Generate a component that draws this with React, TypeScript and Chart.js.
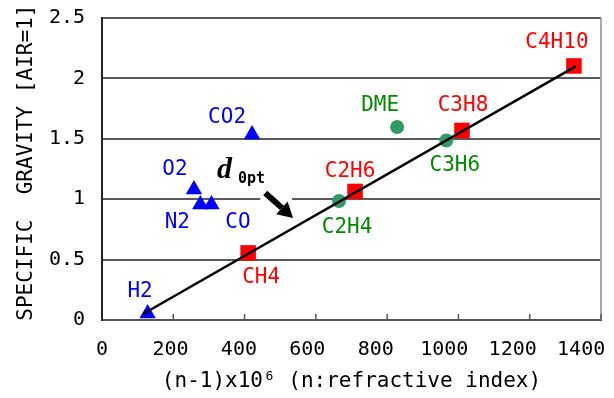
import { useEffect, useRef } from 'react';
import { Chart, registerables } from 'chart.js';

Chart.register(...registerables);

// ---- data ----
const xTickValues = [0, 200, 400, 600, 800, 1000, 1200, 1400];
const yTickValues = [0, 0.5, 1, 1.5, 2, 2.5];

const blueNames = ['H2', 'O2', 'N2', 'CO', 'CO2'];
const blueX = [128, 258, 276, 307, 421];
const blueY = [0.054, 1.08, 0.956, 0.956, 1.536];

const redNames = ['CH4', 'C2H6', 'C3H8', 'C4H10'];
const redX = [410, 710, 1010, 1324];
const redY = [0.555, 1.064, 1.569, 2.103];

const greenNames = ['C2H4', 'DME', 'C3H6'];
const greenX = [665, 828, 966];
const greenY = [0.985, 1.598, 1.486];

const fitX = [115, 1329];
const fitY = [0.05, 2.1];

// ---- label placement (pixel offsets from markers) ----
const blueDX = [-7.5, -19, -23, 26.5, -25];
const blueDY = [-23.5, -22.5, 15.5, 15.5, -18.5];
const redDX = [13, -5, 1, -17];
const redDY = [23, -21.5, -26.5, -25];
const greenDX = [8, -17, 8.5];
const greenDY = [24, -23, 23.5];

// annotation anchors (data coords)
const arrowTail = { x: 458, y: 1.052 };
const arrowTip = { x: 536, y: 0.845 };
const dAnchor = { x: 322.6, y: 1.175 };

const MONO = "'DejaVu Sans Mono', 'Liberation Mono', monospace";

const BLUE = '#0000ff';
const RED = '#ff0000';
const GREEN_MARK = '#339966';
const GREEN_TEXT = '#008a00';

function pts(xs: number[], ys: number[]) {
  return xs.map((x, i) => ({ x, y: ys[i] }));
}

const annotationPlugin = {
  id: 'annotations',
  afterDatasetsDraw(chart: any) {
    const ctx = chart.ctx;
    const xs = chart.scales.x;
    const ys = chart.scales.y;
    const area = chart.chartArea;

    ctx.save();
    // right frame line
    ctx.strokeStyle = '#a8a8a8';
    ctx.lineWidth = 2;
    ctx.beginPath();
    ctx.moveTo(area.right, area.top);
    ctx.lineTo(area.right, area.bottom);
    ctx.stroke();

    // inward tick marks on x axis
    ctx.strokeStyle = '#555';
    ctx.lineWidth = 1.5;
    xs.ticks.forEach((t: any) => {
      const px = xs.getPixelForValue(t.value);
      if (px <= area.left + 1) return;
      ctx.beginPath();
      ctx.moveTo(px, area.bottom);
      ctx.lineTo(px, area.bottom - 6);
      ctx.stroke();
    });

    // point labels
    const groups = [
      { idx: 1, names: blueNames, dx: blueDX, dy: blueDY, color: BLUE },
      { idx: 2, names: redNames, dx: redDX, dy: redDY, color: RED },
      { idx: 3, names: greenNames, dx: greenDX, dy: greenDY, color: GREEN_TEXT },
    ];
    ctx.font = `21px ${MONO}`;
    ctx.textAlign = 'center';
    ctx.textBaseline = 'alphabetic';
    groups.forEach((g) => {
      const meta = chart.getDatasetMeta(g.idx);
      ctx.fillStyle = g.color;
      meta.data.forEach((el: any, i: number) => {
        ctx.fillText(g.names[i], el.x + g.dx[i], el.y + g.dy[i] + 7.5);
      });
    });

    // arrow
    const tx = xs.getPixelForValue(arrowTail.x);
    const ty = ys.getPixelForValue(arrowTail.y);
    const hx = xs.getPixelForValue(arrowTip.x);
    const hy = ys.getPixelForValue(arrowTip.y);
    const gy = ys.getPixelForValue(1);
    ctx.fillStyle = '#fff';
    ctx.fillRect(tx - 5, gy - 2, hx - tx + 4, 4);

    const ang = Math.atan2(hy - ty, hx - tx);
    const headLen = 15;
    const headW = 8.5;
    const bx = hx - Math.cos(ang) * headLen;
    const by = hy - Math.sin(ang) * headLen;
    ctx.strokeStyle = '#000';
    ctx.lineWidth = 6;
    ctx.lineCap = 'butt';
    ctx.beginPath();
    ctx.moveTo(tx, ty);
    ctx.lineTo(bx, by);
    ctx.stroke();
    ctx.fillStyle = '#000';
    ctx.beginPath();
    ctx.moveTo(hx, hy);
    ctx.lineTo(bx - Math.sin(ang) * headW, by + Math.cos(ang) * headW);
    ctx.lineTo(bx + Math.sin(ang) * headW, by - Math.cos(ang) * headW);
    ctx.closePath();
    ctx.fill();

    // d_0pt
    const dx = xs.getPixelForValue(dAnchor.x);
    const dy = ys.getPixelForValue(dAnchor.y);
    ctx.fillStyle = '#000';
    ctx.textAlign = 'left';
    ctx.textBaseline = 'alphabetic';
    ctx.font = `italic bold 30px 'Liberation Serif', 'DejaVu Serif', serif`;
    ctx.fillText('d', dx, dy);
    ctx.font = `bold 15px ${MONO}`;
    ctx.fillText('0pt', dx + 21, dy + 5);
    ctx.restore();
  },
};

export default function App() {
  const ref = useRef<HTMLCanvasElement | null>(null);

  useEffect(() => {
    if (!ref.current) return;
    const chart = new Chart(ref.current, {
      type: 'scatter',
      data: {
        datasets: [
          {
            label: 'fit',
            data: pts(fitX, fitY),
            showLine: true,
            borderColor: '#000',
            borderWidth: 2.5,
            pointRadius: 0,
            fill: false,
          },
          {
            label: 'blue',
            data: pts(blueX, blueY),
            pointStyle: 'triangle',
            pointRadius: 9.5,
            backgroundColor: BLUE,
            borderColor: BLUE,
            borderWidth: 0,
          },
          {
            label: 'red',
            data: pts(redX, redY),
            pointStyle: 'rect',
            pointRadius: 11,
            backgroundColor: RED,
            borderColor: RED,
            borderWidth: 0,
          },
          {
            label: 'green',
            data: pts(greenX, greenY),
            pointStyle: 'circle',
            pointRadius: 7,
            backgroundColor: GREEN_MARK,
            borderColor: GREEN_MARK,
            borderWidth: 0,
          },
        ],
      } as any,
      options: {
        responsive: false,
        animation: false,
        devicePixelRatio: 1,
        layout: { padding: { top: 18, right: 13, left: 0, bottom: 0 } },
        plugins: { legend: { display: false }, tooltip: { enabled: false } },
        scales: {
          x: {
            type: 'linear',
            position: 'bottom',
            min: 0,
            max: 1400,
            weight: 0,
            afterBuildTicks: (s: any) => {
              s.ticks = xTickValues.map((v) => ({ value: v }));
            },
            ticks: { display: false },
            grid: { display: false, drawTicks: false },
            border: { display: true, color: '#555', width: 2 },
            afterFit: (s: any) => {
              s.height = 0;
              s.paddingLeft = 0;
              s.paddingRight = 0;
            },
          },
          x2: {
            type: 'linear',
            position: 'bottom',
            min: 0,
            max: 1458,
            weight: 1,
            afterBuildTicks: (s: any) => {
              s.ticks = xTickValues.map((v) => ({ value: v }));
            },
            ticks: {
              font: { family: MONO, size: 20 },
              color: '#000',
              padding: 18,
              maxRotation: 0,
              autoSkip: false,
              callback: (v: any) => String(v),
            },
            grid: { display: false, drawTicks: false },
            border: { display: false },
            title: {
              display: true,
              text: '(n-1)x10\u2076 (n:refractive index)',
              font: { family: MONO, size: 21 },
              color: '#000',
              padding: { top: 0, bottom: 4 },
            },
            afterFit: (s: any) => {
              s.height = 78;
              s.paddingLeft = 0;
              s.paddingRight = 0;
            },
          },
          y: {
            type: 'linear',
            min: 0,
            max: 2.5,
            afterBuildTicks: (s: any) => {
              s.ticks = yTickValues.map((v) => ({ value: v }));
            },
            ticks: {
              font: { family: MONO, size: 20 },
              color: '#000',
              padding: 17,
              callback: (v: any) => String(v),
            },
            grid: { color: '#5a5a5a', lineWidth: 2, drawTicks: false },
            border: { display: true, color: '#222', width: 2 },
            title: {
              display: true,
              text: ' SPECIFIC  GRAVITY [AIR=1]',
              font: { family: MONO, size: 21 },
              color: '#000',
              padding: { top: 14, bottom: 0 },
            },
            afterFit: (s: any) => {
              s.width = 102;
              s.paddingTop = 0;
              s.paddingBottom = 0;
            },
          },
        },
      } as any,
      plugins: [annotationPlugin],
    });
    return () => chart.destroy();
  }, []);

  return (
    <div style={{ position: 'fixed', left: 0, top: 0, width: 614, height: 398, background: '#fff' }}>
      <canvas ref={ref} width={614} height={398} style={{ display: 'block' }} />
    </div>
  );
}
